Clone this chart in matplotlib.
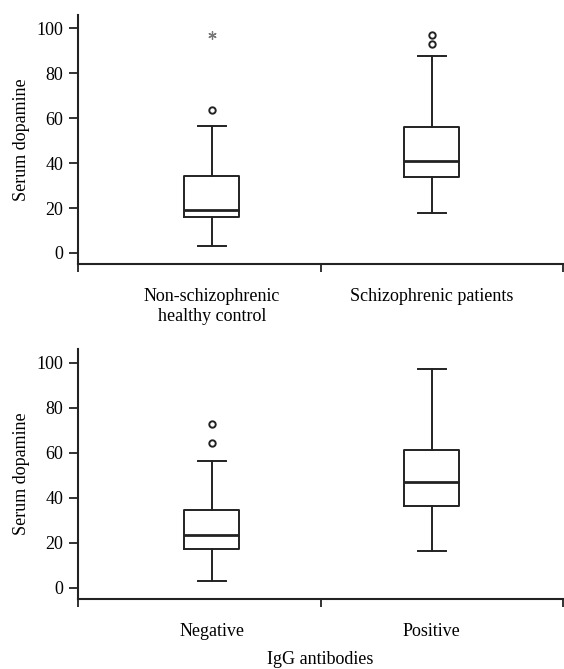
import matplotlib
matplotlib.use("Agg")
import matplotlib.pyplot as plt

plt.rcParams["font.family"] = ["Liberation Serif", "DejaVu Serif"]
plt.rcParams["font.size"] = 13

# box-plot summaries (whislo, q1, med, q3, whishi)
top_labels = ["Non-schizophrenic\nhealthy control", "Schizophrenic patients"]
top_whislo = [2.9, 17.9]
top_q1 = [16.1, 34.0]
top_med = [18.9, 40.8]
top_q3 = [34.1, 56.0]
top_whishi = [56.3, 87.5]
top_fliers = [[63.4], [93.0, 96.9]]
top_extremes = [[96.8], []]

bot_labels = ["Negative", "Positive"]
bot_whislo = [3.0, 16.3]
bot_q1 = [17.1, 36.3]
bot_med = [23.5, 46.9]
bot_q3 = [34.6, 61.4]
bot_whishi = [56.3, 97.3]
bot_fliers = [[64.4, 72.6], []]
bot_extremes = [[], []]

POS = [0.552, 1.458]
INK = "#222222"


def panel(ax, labels, whislo, q1, med, q3, whishi, fliers, extremes):
    stats = []
    for i in range(len(labels)):
        stats.append(dict(whislo=whislo[i], q1=q1[i], med=med[i], q3=q3[i],
                          whishi=whishi[i], fliers=fliers[i]))
    ax.bxp(stats, positions=POS, widths=0.225, capwidths=0.115,
           boxprops=dict(color=INK, linewidth=1.4),
           whiskerprops=dict(color=INK, linewidth=1.4),
           capprops=dict(color=INK, linewidth=1.4),
           medianprops=dict(color=INK, linewidth=2.0),
           flierprops=dict(marker="o", markersize=4.6, markerfacecolor="white",
                           markeredgecolor=INK, markeredgewidth=1.4, linestyle="none"),
           manage_ticks=False)
    for p, ext in zip(POS, extremes):
        if ext:
            ax.plot([p] * len(ext), ext, linestyle="none", marker=(6, 2, 0),
                    markersize=6, color="#777777", markeredgewidth=0.9)

    ax.set_xlim(0, 2)
    ax.set_ylim(-4.9, 106)
    ax.set_yticks([0, 20, 40, 60, 80, 100])
    ax.set_xticks([0, 1, 2])
    ax.set_xticklabels([])
    ax.set_xticks(POS, minor=True)
    ax.set_xticklabels(labels, minor=True, linespacing=1.2)
    ax.tick_params(axis="x", which="minor", length=0, pad=17.5)
    ax.tick_params(axis="x", which="major", length=6, width=1.3, color=INK)
    ax.tick_params(axis="y", length=6.3, width=1.3, color=INK, pad=4)
    for s in ("top", "right"):
        ax.spines[s].set_visible(False)
    for s in ("left", "bottom"):
        ax.spines[s].set_linewidth(1.5)
        ax.spines[s].set_color(INK)
    ax.set_ylabel("Serum dopamine", labelpad=5)


fig = plt.figure(figsize=(5.64, 6.69), dpi=100)
ax1 = fig.add_axes([0.1378, 0.6054, 0.861, 0.3726])
ax2 = fig.add_axes([0.1378, 0.1046, 0.861, 0.3733])

panel(ax1, top_labels, top_whislo, top_q1, top_med, top_q3, top_whishi,
      top_fliers, top_extremes)
panel(ax2, bot_labels, bot_whislo, bot_q1, bot_med, bot_q3, bot_whishi,
      bot_fliers, bot_extremes)
ax2.set_xlabel("IgG antibodies", labelpad=8)

fig.savefig("out.png", dpi=100)
